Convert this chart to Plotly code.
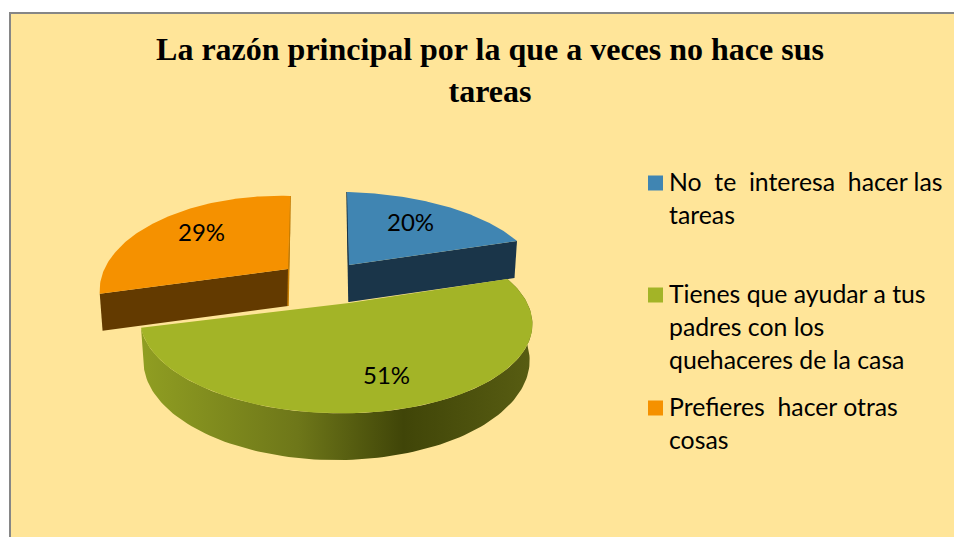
"""
Exploded 3D-look pie chart: main reason homework is sometimes not done.
"""

import numpy as np
import plotly.graph_objects as go

# data
values = [20, 51, 29]
legend_lines = [
    ["No\u00a0\u00a0te\u00a0\u00a0interesa\u00a0\u00a0hacer las", "tareas"],
    ["Tienes que ayudar a tus", "padres con los", "quehaceres de la casa"],
    ["Prefieres\u00a0\u00a0hacer otras", "cosas"],
]
title_text = "<b>La razón principal por la que a veces no hace sus<br>tareas</b>"

# styles
top_colors = ["#4085B2", "#A3B427", "#F59100"]
wall_colors = ["#1A3549", "#A3B427", "#633A00"]
edge_colors = ["#1A3549", "#A3B427", "#C87D00"]
green_wall_scale = [
    [0.0, "#909E22"], [0.4, "#6E7719"], [0.67, "#404508"], [1.0, "#585D12"],
]

# slice placement: apex on the page, horizontal scale, lean of the 12 o'clock edge
apex = [(349, 265), (349, 303), (288, 269)]
x_scale = [1.05, 1.0, 0.892]
lean = [-2.4, -8.0, 2.6]
label_radius = [0.68, 0.74, 0.72]
label_shift = [(-8, 1), (-14, 0), (5, 1)]

# projection of the unit disc
RX, RY = 191.0, 87.8
PERSP_X, PERSP_Y = 0.072, 0.202
DEPTH = 37.0
BOTTOM_SHRINK = 0.985


def project(i, theta, r=1.0):
    """Position of a disc point; theta in degrees clockwise from 12 o'clock."""
    t = np.radians(theta)
    dx, dy = r * np.sin(t), r * np.cos(t)
    w = 1 + PERSP_X * dx + PERSP_Y * dy
    x = apex[i][0] + (RX * x_scale[i] * dx + lean[i] * dy) / w
    y = apex[i][1] - RY * dy / w
    return x, y, w


def lower(i, x, y, w=1.0):
    """Same point on the underside of the disc."""
    return apex[i][0] + (x - apex[i][0]) * BOTTOM_SHRINK, y + DEPTH / w


def poly(x, y, color, **kwargs):
    return go.Scatter(
        x=np.asarray(x), y=np.asarray(y), mode="lines", fill="toself",
        fillcolor=color, line=dict(width=0), hoverinfo="skip", **kwargs,
    )


shares = np.array(values) / sum(values) * 360
starts = np.concatenate([[0], np.cumsum(shares)[:-1]])
stops = starts + shares

fig = go.Figure()

# draw back slices first, the big front slice last
for i in [0, 2, 1]:
    angles = np.linspace(starts[i], stops[i], 120)
    ax, ay = apex[i]
    arc_x, arc_y, arc_w = project(i, angles)

    if i == 1:
        # outer wall, only the near part of the rim shows
        low_x, low_y = lower(i, arc_x, arc_y, arc_w)
        fig.add_trace(go.Scatter(
            x=np.concatenate([arc_x, low_x[::-1]]),
            y=np.concatenate([arc_y, low_y[::-1]]),
            mode="lines", fill="toself", line=dict(width=0), hoverinfo="skip",
            fillgradient=dict(
                type="horizontal", colorscale=green_wall_scale,
                start=arc_x.min(), stop=arc_x.max(),
            ),
        ))
    else:
        # cut faces of the pulled-out slices
        for end in [starts[i], stops[i]]:
            ex, ey, _ = project(i, end)
            bx, by = lower(i, ex, ey)
            vx, vy = lower(i, ax, ay)
            fig.add_trace(poly(
                [ax, ex, bx, vx], [ay, ey, by, vy], wall_colors[i],
            ))
        ex, ey, _ = project(i, stops[i] if i == 2 else starts[i])
        bx, by = lower(i, ax, ay)
        fig.add_trace(go.Scatter(
            x=[ex, bx], y=[ey, by], mode="lines", hoverinfo="skip",
            line=dict(color=edge_colors[i], width=1.5),
        ))

    fig.add_trace(poly(
        np.concatenate([[ax], arc_x, [ax]]),
        np.concatenate([[ay], arc_y, [ay]]),
        top_colors[i],
    ))

    mid = (starts[i] + stops[i]) / 2
    lx, ly, _ = project(i, mid, label_radius[i])
    fig.add_annotation(
        x=lx, y=ly, text=f"{values[i]}%", showarrow=False,
        xshift=label_shift[i][0], yshift=label_shift[i][1],
        font=dict(family="Lato", size=24, color="#000000"),
    )

# legend drawn by hand, the wrapped lines do not fit a plotly legend
LEGEND_KEY_X = 655.5
LEGEND_TEXT_X = 667
legend_y = [181.5, 293.5, 406.5]
LINE_GAP = 32.8
for i, lines in enumerate(legend_lines):
    fig.add_trace(go.Scatter(
        x=[LEGEND_KEY_X], y=[legend_y[i] + 1.5], mode="markers", hoverinfo="skip",
        marker=dict(symbol="square", size=15, color=top_colors[i]),
    ))
    for n, line in enumerate(lines):
        fig.add_annotation(
            x=LEGEND_TEXT_X, y=legend_y[i] + n * LINE_GAP, text=line,
            showarrow=False, xanchor="left",
            font=dict(family="Lato", size=24.8, color="#000000"),
        )

fig.update_layout(
    width=954, height=537,
    margin=dict(l=0, r=0, t=0, b=0),
    paper_bgcolor="#FFFFFF",
    plot_bgcolor="rgba(0,0,0,0)",
    showlegend=False,
    title=dict(
        text=title_text, x=490 / 954, xanchor="center",
        y=1 - 60 / 537, yanchor="middle",
        font=dict(family="Liberation Serif", size=32, color="#000000"),
    ),
    xaxis=dict(range=[0, 954], visible=False, fixedrange=True),
    yaxis=dict(range=[537, 0], visible=False, fixedrange=True),
    shapes=[dict(
        type="rect", xref="paper", yref="paper", layer="below",
        x0=10 / 954, x1=1.02, y0=-0.02, y1=1 - 13 / 537,
        fillcolor="#FFE599", line=dict(color="#868686", width=2),
    )],
)

fig.write_html(
    "out.html",
    post_script="document.body.style.margin='0';",
    config=dict(displayModeBar=False),
)
